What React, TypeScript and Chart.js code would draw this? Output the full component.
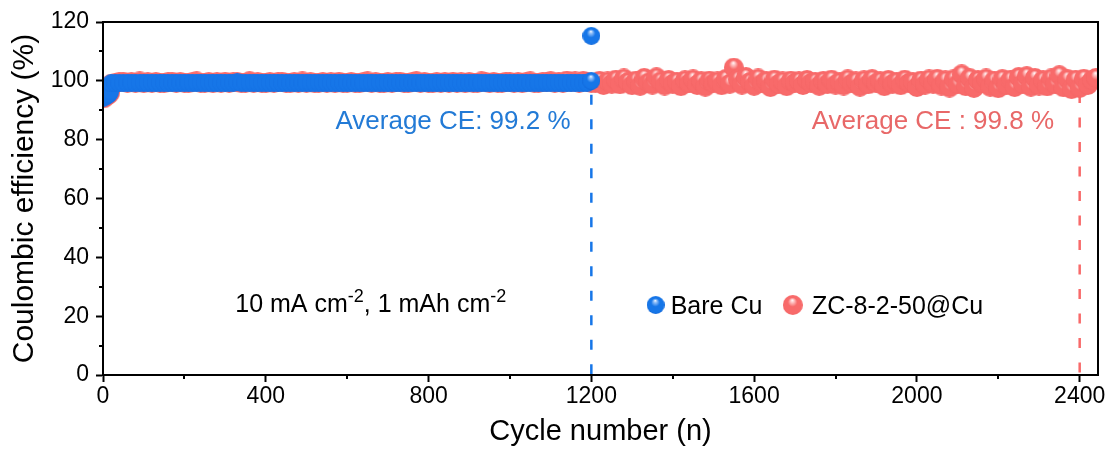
import { useEffect, useRef } from "react";
import { Chart, registerables } from "chart.js";

Chart.register(...registerables);

const FONT = '"Liberation Sans", Arial, Helvetica, sans-serif';

// Axis ranges and ticks
const X_MIN = 0;
const X_MAX = 2445;
const xTickValues = [0, 400, 800, 1200, 1600, 2000, 2400];
const xMinorTickValues = [200, 600, 1000, 1400, 1800, 2200];
const Y_MIN = 0;
const Y_MAX = 120;
const Y_STEP = 20;
const yMinorTickValues = [10, 30, 50, 70, 90, 110];

// Sampling interval of the regular records (cycles)
const SAMPLE_STEP = 10;

// Bare Cu: first cycles, then one record every SAMPLE_STEP cycles from bareStartCycle
const bareEarlyCycles = [1, 3, 5, 7, 9, 12, 15, 18];
const bareEarlyCE = [94.3, 94.6, 94.8, 95.0, 95.1, 95.3, 95.6, 96.4];
const bareStartCycle = 20;
const bareCE = [
  99.2, 99.3, 99.3, 99.2, 99.3, 99.4, 99.3, 99.3, 99.4,
  99.3, 99.4, 99.3, 99.4, 99.4, 99.3, 99.4, 99.3, 99.4, 99.3,
  99.4, 99.3, 99.4, 99.4, 99.3, 99.4, 99.3, 99.4, 99.4, 99.3,
  99.4, 99.4, 99.5, 99.3, 99.4, 99.3, 99.4, 99.4, 99.3, 99.4,
  99.3, 99.4, 99.4, 99.3, 99.4, 99.3, 99.4, 99.4, 99.3, 99.4,
  99.4, 99.3, 99.4, 99.3, 99.4, 99.4, 99.3, 99.4, 99.3, 99.4,
  99.4, 99.3, 99.4, 99.3, 99.4, 99.4, 99.3, 99.4, 99.4, 99.3,
  99.4, 99.3, 99.4, 99.4, 99.3, 99.4, 99.3, 99.4, 99.4, 99.3,
  99.4, 99.3, 99.4, 99.4, 99.3, 99.4, 99.4, 99.3, 99.4, 99.3,
  99.4, 99.4, 99.3, 99.4, 99.3, 99.4, 99.4, 99.3, 99.4, 99.3,
  99.4, 99.3, 99.4, 99.4, 99.3, 99.4, 99.3, 99.4, 99.4, 99.3,
  99.4, 99.3, 99.4, 99.3, 99.4, 99.4, 99.3, 99.4, 99.3, 100.0,
];
const bareSpikeCycle = 1200;
const bareSpikeCE = 115.3;

// ZC-8-2-50@Cu: first cycles, then one record every SAMPLE_STEP cycles from zcStartCycle
const zcEarlyCycles = [1, 3, 5, 7, 9, 12, 15, 18];
const zcEarlyCE = [94.0, 94.4, 94.7, 94.9, 95.0, 95.2, 95.5, 96.2];
const zcStartCycle = 20;
const zcCE = [
  99.0, 99.3, 99.5, 99.7, 99.4, 99.6, 99.3, 99.8, 99.2,
  99.5, 99.3, 99.6, 99.4, 99.2, 99.5, 99.7, 99.3, 99.6, 99.4,
  99.2, 99.5, 99.8, 99.4, 99.3, 99.6, 99.2, 99.5, 99.4, 99.7,
  99.3, 99.5, 99.6, 99.2, 99.4, 99.9, 99.3, 99.5, 99.4, 99.2,
  99.6, 99.3, 99.5, 99.7, 99.4, 99.2, 99.6, 99.3, 99.8, 99.4,
  99.5, 99.2, 99.4, 99.6, 99.3, 99.5, 99.2, 99.7, 99.4, 99.3,
  99.6, 99.4, 99.2, 99.5, 99.8, 99.3, 99.5, 99.4, 99.2, 99.6,
  99.3, 99.5, 99.7, 99.4, 99.2, 99.5, 99.9, 99.3, 99.6, 99.4,
  99.2, 99.5, 99.3, 99.6, 99.4, 99.7, 99.3, 99.5, 99.2, 99.6,
  99.4, 99.3, 99.8, 99.5, 99.2, 99.6, 99.4, 99.3, 99.7, 99.5,
  99.3, 99.6, 99.2, 99.5, 99.8, 99.4, 99.3, 99.6, 99.5, 99.9,
  99.4, 99.7, 99.3, 100.1, 99.5, 99.8, 99.4, 100.0, 99.6, 99.3,
  99.3, 100.0, 98.6, 99.8, 99.0, 100.4, 98.8, 100.8, 99.6, 98.5,
  100.1, 98.3, 101.0, 99.4, 98.7, 101.2, 99.8, 98.4, 100.3, 99.0,
  99.7, 98.2, 100.2, 99.1, 100.5, 98.6, 99.9, 98.0, 100.1, 99.2,
  99.8, 98.5, 100.6, 99.0, 104.5, 100.5, 98.7, 101.3, 99.6, 98.3,
  100.8, 99.1, 100.0, 97.9, 100.4, 98.9, 99.8, 98.2, 100.1, 99.3,
  99.9, 98.6, 100.3, 99.3, 99.7, 98.3, 100.0, 98.9, 100.4, 98.7,
  99.6, 98.4, 100.5, 99.1, 99.8, 98.0, 100.2, 98.8, 100.6, 99.2,
  99.9, 98.2, 100.3, 99.0, 99.7, 98.5, 100.4, 99.3, 99.6, 97.9,
  100.1, 98.7, 100.5, 99.0, 100.7, 98.4, 100.2, 97.7, 100.5, 98.8,
  102.2, 98.2, 100.9, 97.6, 100.3, 99.1, 100.8, 98.0, 100.1, 97.5,
  100.6, 98.5, 100.4, 97.9, 101.3, 98.9, 101.6, 98.0, 101.0, 98.4,
  100.2, 98.1, 100.8, 98.8, 101.9, 97.8, 100.6, 97.2, 100.4, 97.6,
  100.7, 98.6, 100.2, 101.0,
];

// Average CE markers
const bareAverageCE = 99.2;
const bareLastCycle = 1200;
const zcAverageCE = 99.8;
const zcLastCycle = 2400;

const BLUE = "rgb(22,118,232)";
const BLUE_TEXT = "rgb(34,122,214)";
const RED = "rgb(248,106,106)";
const RED_TEXT = "rgb(232,104,104)";
const R_BLUE = 9;
const R_RED = 10;

function toPoints(earlyCycles: number[], earlyCE: number[], start: number, ce: number[]) {
  const pts = earlyCycles.map((c, i) => ({ x: c, y: earlyCE[i] }));
  ce.forEach((v, i) => pts.push({ x: start + i * SAMPLE_STEP, y: v }));
  return pts;
}

function makeBall(r: number, base: string, light: string, dark: string, shine: number) {
  const c = document.createElement("canvas");
  c.width = c.height = r * 2;
  const g = c.getContext("2d")!;
  const grad = g.createRadialGradient(r * 0.95, r * 0.5, 0, r, r, r * 1.05);
  if (shine > 0) {
    grad.addColorStop(0, "#ffffff");
    grad.addColorStop(shine, light);
  }
  grad.addColorStop(Math.min(0.55, shine + 0.3), base);
  grad.addColorStop(0.85, base);
  grad.addColorStop(1, dark);
  g.fillStyle = grad;
  g.beginPath();
  g.arc(r, r, r, 0, Math.PI * 2);
  g.fill();
  return c;
}

export default function App() {
  const ref = useRef<HTMLCanvasElement | null>(null);

  useEffect(() => {
    document.body.style.margin = "0";
    const canvas = ref.current!;
    const blueBall = makeBall(R_BLUE, BLUE, "rgb(150,195,250)", "rgb(14,96,210)", 0.15);
    const blueBand = makeBall(R_BLUE, BLUE, BLUE, "rgb(20,110,225)", 0);
    const redBall = makeBall(R_RED, RED, "rgb(255,205,205)", "rgb(242,100,100)", 0.14);

    const barePts = toPoints(bareEarlyCycles, bareEarlyCE, bareStartCycle, bareCE);
    barePts.push({ x: bareSpikeCycle, y: bareSpikeCE });
    const zcPts = toPoints(zcEarlyCycles, zcEarlyCE, zcStartCycle, zcCE);
    const lastBare = barePts.length - 2;

    const frameAndMinor = {
      id: "frameAndMinor",
      afterDatasetsDraw(chart: any) {
        const { ctx, chartArea: a, scales } = chart;
        const x = scales.x;
        const y = scales.y;
        ctx.save();
        ctx.strokeStyle = "#000";
        ctx.lineWidth = 2;
        ctx.strokeRect(a.left, a.top, a.right - a.left, a.bottom - a.top);
        ctx.beginPath();
        for (const v of xMinorTickValues) {
          const px = Math.round(x.getPixelForValue(v));
          ctx.moveTo(px, a.bottom);
          ctx.lineTo(px, a.bottom + 4);
        }
        for (const v of yMinorTickValues) {
          const py = Math.round(y.getPixelForValue(v));
          ctx.moveTo(a.left, py);
          ctx.lineTo(a.left - 4, py);
        }
        ctx.stroke();
        ctx.restore();
      },
      afterDraw(chart: any) {
        const { ctx, scales } = chart;
        const x = scales.x;
        const y = scales.y;
        ctx.save();
        ctx.textBaseline = "middle";
        ctx.font = `26px ${FONT}`;
        ctx.fillStyle = BLUE_TEXT;
        ctx.textAlign = "center";
        ctx.fillText(`Average CE: ${bareAverageCE} %`, x.getPixelForValue(860), y.getPixelForValue(86));
        ctx.fillStyle = RED_TEXT;
        ctx.textAlign = "right";
        ctx.fillText(`Average CE : ${zcAverageCE} %`, x.getPixelForValue(2337), y.getPixelForValue(86));

        // test condition
        ctx.fillStyle = "#000";
        ctx.textAlign = "left";
        ctx.textBaseline = "alphabetic";
        let tx = x.getPixelForValue(325);
        const base = y.getPixelForValue(21.4);
        const parts: [string, boolean][] = [
          ["10 mA cm", false],
          ["-2", true],
          [", 1 mAh cm", false],
          ["-2", true],
        ];
        for (const [t, sup] of parts) {
          ctx.font = sup ? `18px ${FONT}` : `25px ${FONT}`;
          ctx.fillText(t, tx, sup ? base - 10 : base);
          tx += ctx.measureText(t).width;
        }

        // legend
        const ly = y.getPixelForValue(23.8);
        const lb = y.getPixelForValue(20.7);
        ctx.font = `25px ${FONT}`;
        ctx.drawImage(blueBall, x.getPixelForValue(1358) - R_BLUE, ly - R_BLUE);
        ctx.fillText("Bare Cu", x.getPixelForValue(1395), lb);
        ctx.drawImage(redBall, x.getPixelForValue(1695) - R_RED, ly - R_RED);
        ctx.fillText("ZC-8-2-50@Cu", x.getPixelForValue(1742), lb);
        ctx.restore();
      },
    };

    const chart = new Chart(canvas, {
      type: "scatter",
      data: {
        datasets: [
          {
            label: "Bare Cu",
            data: barePts,
            pointStyle: (c: any) => (c.dataIndex >= lastBare ? blueBall : blueBand),
            pointRadius: R_BLUE,
            showLine: false,
            clip: 0,
          },
          {
            label: "ZC-8-2-50@Cu",
            data: zcPts,
            pointStyle: redBall as any,
            pointRadius: R_RED,
            showLine: false,
            clip: 0,
          },
          {
            label: "Bare Cu average",
            data: [
              { x: bareLastCycle, y: bareAverageCE },
              { x: bareLastCycle, y: Y_MIN },
            ],
            showLine: true,
            pointRadius: 0,
            borderColor: BLUE,
            borderWidth: 2.5,
            borderDash: [10, 14.5],
            borderDashOffset: 13,
          },
          {
            label: "ZC-8-2-50@Cu average",
            data: [
              { x: zcLastCycle, y: zcAverageCE },
              { x: zcLastCycle, y: Y_MIN },
            ],
            showLine: true,
            pointRadius: 0,
            borderColor: RED,
            borderWidth: 2.5,
            borderDash: [10, 14.5],
            borderDashOffset: 13,
          },
        ],
      } as any,
      options: {
        responsive: false,
        animation: false,
        events: [],
        layout: { padding: { top: 22, right: 12, left: 0, bottom: 0 } },
        plugins: { legend: { display: false }, tooltip: { enabled: false } },
        scales: {
          x: {
            type: "linear",
            min: X_MIN,
            max: X_MAX,
            afterFit: (s: any) => {
              s.height = 75;
            },
            afterBuildTicks: (s: any) => {
              s.ticks = xTickValues.map((v) => ({ value: v }));
            },
            ticks: {
              color: "#000",
              padding: 1,
              maxRotation: 0,
              autoSkip: false,
              font: { family: FONT, size: 23 },
              callback: (v: any) => String(v),
            },
            grid: {
              drawOnChartArea: false,
              drawTicks: true,
              tickLength: 7,
              tickColor: "#000",
              tickWidth: 2,
            },
            border: { display: true, color: "#000", width: 2 },
            title: {
              display: true,
              text: "Cycle number (n)",
              color: "#000",
              font: { family: FONT, size: 29 },
              padding: { top: 0, bottom: 1 },
            },
          },
          y: {
            type: "linear",
            min: Y_MIN,
            max: Y_MAX,
            afterFit: (s: any) => {
              s.width = 103;
            },
            ticks: {
              stepSize: Y_STEP,
              color: "#000",
              padding: 7,
              font: { family: FONT, size: 23 },
              callback: (v: any) => String(v),
            },
            grid: {
              drawOnChartArea: false,
              drawTicks: true,
              tickLength: 7,
              tickColor: "#000",
              tickWidth: 2,
            },
            border: { display: true, color: "#000", width: 2 },
            title: {
              display: true,
              text: "Coulombic efficiency (%)",
              color: "#000",
              font: { family: FONT, size: 30 },
              padding: { top: 7, bottom: 0 },
            },
          },
        },
      } as any,
      plugins: [frameAndMinor],
    });
    return () => chart.destroy();
  }, []);

  return (
    <div style={{ width: 1110, height: 450, background: "#fff" }}>
      <canvas ref={ref} width={1110} height={450} />
    </div>
  );
}
